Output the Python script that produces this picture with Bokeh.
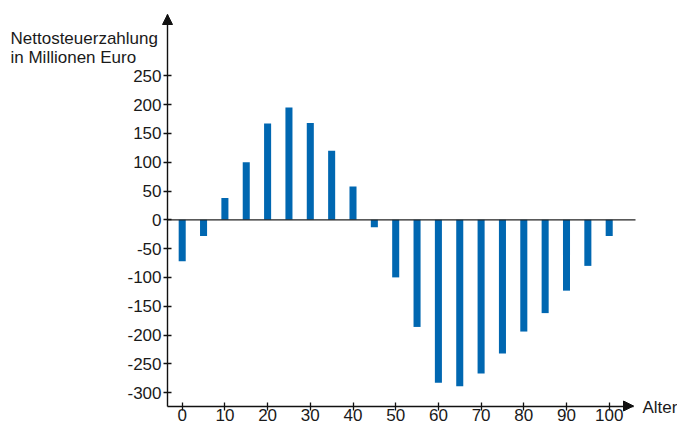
from bokeh.plotting import figure
from bokeh.models import Range1d, FixedTicker, Label, Arrow, NormalHead
from bokeh.embed import file_html
from bokeh.resources import INLINE

# ---- data ----
ages = [0, 5, 10, 15, 20, 25, 30, 35, 40, 45, 50, 55, 60, 65, 70, 75, 80, 85, 90, 95, 100]
values = [-72, -28, 38, 100, 167, 195, 168, 120, 58, -13, -100, -186, -283, -289,
          -267, -232, -194, -162, -123, -80, -28]
x_ticks = [0, 10, 20, 30, 40, 50, 60, 70, 80, 90, 100]
y_ticks = [-300, -250, -200, -150, -100, -50, 0, 50, 100, 150, 200, 250]
y_tick_labels = ["-300", "-250", "-200", "-150", "-100", "-50", "0", "50", "100", "150", "200", "250"]
y_title = ["Nettosteuerzahlung", "in Millionen Euro"]
x_title = "Alter"

FONT = "Liberation Sans"
BAR = "#0067b1"
TXT = "#1a1a1a"
AX = "#111111"

W, H = 677, 427
# pixel layout of the axes and scale
AXL, AXR, AXT, AXB = 167, 633, 14, 405.5   # y-axis x, x-axis end, y-axis top, x-axis y
X0, XPX = 181.7, 4.27      # pixel of x=0, px per unit
Y0, YPX = 219.3, 0.576     # pixel of y=0, px per unit

def dx(px):
    return (px - X0) / XPX

def dy(py):
    return (Y0 - py) / YPX

xr = Range1d(dx(0), dx(W))
yr = Range1d(dy(H), dy(0))

p = figure(width=W, height=H, output_backend="svg", toolbar_location=None,
           x_range=xr, y_range=yr,
           min_border_left=0, min_border_right=0, min_border_top=0, min_border_bottom=0)
p.outline_line_color = None
p.xgrid.visible = False
p.ygrid.visible = False
p.background_fill_color = "white"
p.border_fill_color = "white"

p.vbar(x=ages, top=values, bottom=0, width=1.65, fill_color=BAR, line_color=None)

# zero line
p.segment(x0=[dx(AXL)], y0=[0], x1=[dx(AXR + 2)], y1=[0], line_color="#222222", line_width=1.3)

for ax in (p.xaxis[0], p.yaxis[0]):
    ax.axis_line_color = AX
    ax.axis_line_width = 1.4
    ax.major_tick_line_color = AX
    ax.major_tick_line_width = 1.3
    ax.major_tick_in = 4
    ax.major_tick_out = 4
    ax.minor_tick_line_color = None
    ax.major_label_text_font = FONT
    ax.major_label_text_font_size = "17px"
    ax.major_label_text_color = TXT

p.xaxis.ticker = FixedTicker(ticks=x_ticks)
p.yaxis.ticker = FixedTicker(ticks=y_ticks)
p.yaxis.major_label_overrides = {t: s for t, s in zip(y_ticks, y_tick_labels)}
p.xaxis.major_label_standoff = -1
p.yaxis.major_label_standoff = 2
p.xaxis.fixed_location = dy(AXB)
p.yaxis.fixed_location = dx(AXL)
p.xaxis.bounds = (dx(AXL), dx(AXR))
p.yaxis.bounds = (dy(AXB), dy(AXT))

# arrow heads
p.add_layout(Arrow(end=NormalHead(size=10, fill_color=AX, line_color=AX),
                   x_start=dx(AXL), y_start=dy(AXT + 1), x_end=dx(AXL), y_end=dy(AXT),
                   line_color=AX, line_width=1.4))
p.add_layout(Arrow(end=NormalHead(size=10, fill_color=AX, line_color=AX),
                   x_start=dx(AXR - 1), y_start=dy(AXB), x_end=dx(AXR), y_end=dy(AXB),
                   line_color=AX, line_width=1.4))

# titles
p.add_layout(Label(x=dx(10), y=dy(37.5), text=y_title[0],
                   text_font=FONT, text_font_size="17px", text_color=TXT,
                   text_baseline="alphabetic", text_align="left"))
p.add_layout(Label(x=dx(10), y=dy(56.5), text=y_title[1],
                   text_font=FONT, text_font_size="17px", text_color=TXT,
                   text_baseline="alphabetic", text_align="left"))
p.add_layout(Label(x=dx(642), y=dy(406.5), text=x_title,
                   text_font=FONT, text_font_size="17px", text_color=TXT,
                   text_baseline="middle", text_align="left"))

open("out.html", "w").write(file_html(p, INLINE))
